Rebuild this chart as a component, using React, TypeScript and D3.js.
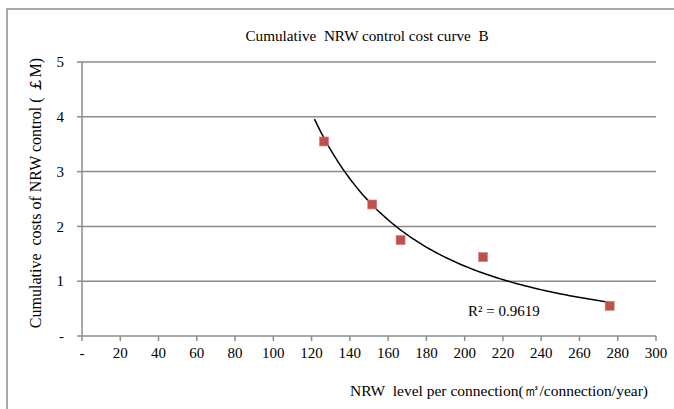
import React from "react";
import * as d3 from "d3";

const xValues = [126.5, 151.7, 166.5, 209.6, 275.8];
const yValues = [3.55, 2.4, 1.75, 1.44, 0.55];
const xTicks = [0, 20, 40, 60, 80, 100, 120, 140, 160, 180, 200, 220, 240, 260, 280, 300];
const yTicks = [0, 1, 2, 3, 4, 5];
const trendRange = [121.5, 275.8];
const title = "Cumulative  NRW control cost curve  B";
const xTitle = "NRW  level per connection(㎥/connection/year)";
const yTitle = "Cumulative  costs of NRW control ( ￡M)";
const r2Label = "R² = 0.9619";

const W = 674;
const H = 409;
const FONT = "'Liberation Serif', 'Times New Roman', serif";

export default function App() {
  const x = d3.scaleLinear().domain([0, 300]).range([82, 656]);
  const y = d3.scaleLinear().domain([0, 5]).range([336, 62]);

  // power-law trendline fitted by least squares on log-log data
  const lx = xValues.map(Math.log);
  const ly = yValues.map(Math.log);
  const mx = d3.mean(lx)!;
  const my = d3.mean(ly)!;
  const b =
    d3.sum(lx.map((v, i) => (v - mx) * (ly[i] - my))) /
    d3.sum(lx.map((v) => (v - mx) * (v - mx)));
  const a = Math.exp(my - b * mx);
  const trendPts = d3.range(0, 101).map((i) => {
    const xv = trendRange[0] + ((trendRange[1] - trendRange[0]) * i) / 100;
    return [xv, a * Math.pow(xv, b)] as [number, number];
  });
  const line = d3
    .line<[number, number]>()
    .x((d) => x(d[0]))
    .y((d) => y(d[1]))
    .curve(d3.curveMonotoneX);

  const grid = "#8c8c8c";
  const pre = { whiteSpace: "pre" as const };

  return (
    <svg
      width={W}
      height={H}
      style={{ position: "absolute", left: 0, top: 0, background: "#fff" }}
      fontFamily={FONT}
    >
      <rect x={7} y={9} width={720} height={460} fill="#fff" stroke="#8c8c8c" strokeWidth={1.5} />
      <text x={367} y={41} textAnchor="middle" fontSize={15.2} fill="#000" style={pre}>
        {title}
      </text>
      {yTicks.map((t) => (
        <g key={"y" + t}>
          {t > 0 && (
            <line x1={x(0)} x2={x(300)} y1={y(t)} y2={y(t)} stroke={grid} strokeWidth={1.5} />
          )}
          <line x1={x(0) - 5} x2={x(0)} y1={y(t)} y2={y(t)} stroke={grid} strokeWidth={1.5} />
          <text x={64} y={y(t)} dy="0.35em" textAnchor="end" fontSize={15} fill="#000">
            {t === 0 ? "-" : String(t)}
          </text>
        </g>
      ))}
      <line x1={x(0)} x2={x(0)} y1={y(5)} y2={y(0)} stroke={grid} strokeWidth={1.5} />
      <line x1={x(0)} x2={x(300)} y1={y(0)} y2={y(0)} stroke={grid} strokeWidth={1.5} />
      {xTicks.map((t) => (
        <g key={"x" + t}>
          <line x1={x(t)} x2={x(t)} y1={y(0)} y2={y(0) + 5} stroke={grid} strokeWidth={1.5} />
          <text x={x(t)} y={358} textAnchor="middle" fontSize={15} fill="#000">
            {t === 0 ? "-" : String(t)}
          </text>
        </g>
      ))}
      <path d={line(trendPts) || ""} fill="none" stroke="#000" strokeWidth={1.5} />
      {xValues.map((xv, i) => (
        <rect
          key={"p" + i}
          x={x(xv) - 4.5}
          y={y(yValues[i]) - 4.5}
          width={9}
          height={9}
          fill="#C0504D"
          stroke="#D0807E"
          strokeWidth={0.6}
        />
      ))}
      <text x={468} y={316} fontSize={15} fill="#000">
        {r2Label}
      </text>
      <text x={648} y={396} textAnchor="end" fontSize={15.5} fill="#000" style={pre}>
        {xTitle}
      </text>
      <text
        transform={`translate(41, 193) rotate(-90)`}
        textAnchor="middle"
        fontSize={16}
        fill="#000"
        style={pre}
      >
        {yTitle}
      </text>
    </svg>
  );
}
